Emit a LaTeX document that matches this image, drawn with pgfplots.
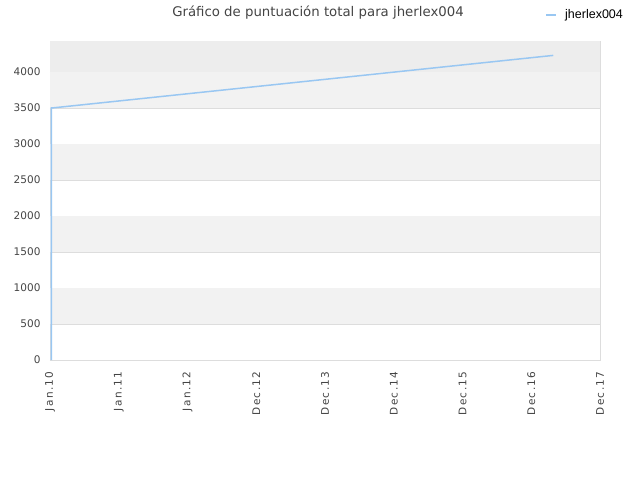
\documentclass[border=0pt]{standalone}
\usepackage{pgfplots}
\pgfplotsset{compat=1.18}
\usepackage{fontspec}
\setmainfont{DejaVu Sans}
\newfontfamily\legfont{Liberation Sans}
\newfontfamily\xfont[LetterSpace=13]{DejaVu Sans}
\definecolor{serie}{HTML}{99C7F2}
\definecolor{bandA}{HTML}{F2F2F2}
\definecolor{bandB}{HTML}{EDEDED}
\definecolor{rejilla}{HTML}{DDDDDD}
\definecolor{texto}{HTML}{444444}
\begin{document}
\begin{tikzpicture}[x=1pt,y=1pt]
\useasboundingbox (-50,-120) rectangle (590,360);
\begin{axis}[
  at={(0,0)}, anchor=south west,
  scale only axis, width=550pt, height=319pt,
  xmin=0, xmax=8, ymin=0, ymax=4430,
  xtick={0,...,8},
  xticklabels={Jan.10,Jan.11,Jan.12,Dec.12,Dec.13,Dec.14,Dec.15,Dec.16,Dec.17},
  x tick label style={rotate=90, anchor=east, xshift=-8pt, font=\xfont\fontsize{10.5}{12}\selectfont, text=texto},
  ytick={0,500,...,4000},
  y tick label style={xshift=-6pt, font=\fontsize{10.5}{12}\selectfont, text=texto},
  /pgf/number format/assume math mode=true,
  /pgf/number format/1000 sep={},
  major tick length=0pt,
  ymajorgrids, grid style={rejilla, line width=0.6pt},
  axis line style={rejilla, line width=0.8pt},
  clip=true,
]
\fill[bandA] (axis cs:0,500) rectangle (axis cs:8,1000);
\fill[bandA] (axis cs:0,1500) rectangle (axis cs:8,2000);
\fill[bandA] (axis cs:0,2500) rectangle (axis cs:8,3000);
\fill[bandA] (axis cs:0,3500) rectangle (axis cs:8,4000);
\fill[bandB] (axis cs:0,4000) rectangle (axis cs:8,4430);
\addplot[serie, line width=1.5pt, no marks] coordinates {
  (0.02,0) (0.02,3100) (0.02,3500) (0.03,3500) (7.32,4230)
};
\end{axis}
\node[text=texto, font=\fontsize{13.3}{15}\selectfont] at (268,347) {Gráfico de puntuación total para jherlex004};
\draw[serie, line width=1.5pt] (496,345) -- (506,345);
\node[anchor=west, inner sep=0pt, text=black, font=\legfont\fontsize{12.5}{14}\selectfont] at (515,345) {jherlex004};
\end{tikzpicture}
\end{document}
